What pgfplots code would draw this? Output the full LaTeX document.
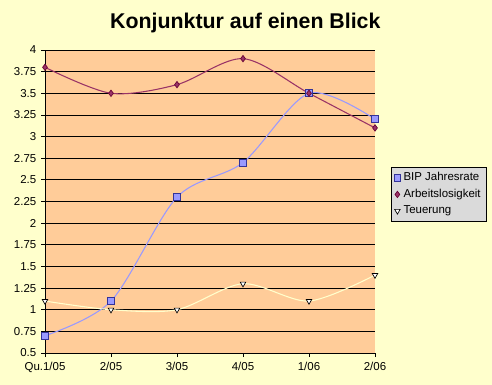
\documentclass[border=0pt]{standalone}
\usepackage{pgfplots}
\pgfplotsset{compat=1.18}
\usepackage{fontspec}
\setmainfont{Liberation Sans}
\definecolor{bgyel}{HTML}{FFFFCC}
\definecolor{plotor}{HTML}{FFCC99}
\definecolor{bipc}{HTML}{9999FF}
\definecolor{bipd}{HTML}{333399}
\definecolor{alc}{HTML}{993366}
\definecolor{ald}{HTML}{660033}
\definecolor{teuc}{HTML}{FFFFCC}
\definecolor{leggray}{HTML}{DADADA}
\begin{document}
\begin{tikzpicture}[x=1pt,y=1pt]
\fill[bgyel] (0,0) rectangle (369,288.75);
\node[font=\bfseries\fontsize{16}{18}\selectfont] at (184,271.5) {Konjunktur auf einen Blick};
\begin{axis}[
  at={(33.75pt,24pt)}, anchor=south west,
  scale only axis, width=247.5pt, height=227.25pt,
  xmin=0, xmax=5, ymin=0.5, ymax=4,
  xtick={0,1,2,3,4,5},
  xticklabels={Qu.1/05,2/05,3/05,4/05,1/06,2/06},
  ytick distance=0.25,
  axis lines=left,
  axis line style={-, black},
  axis background/.style={fill=plotor},
  ymajorgrids, grid style={black, line width=0.6pt},
  tick align=outside, major tick length=3pt,
  tick style={black, line width=0.6pt},
  tick label style={font=\fontsize{8.6}{9.5}\selectfont},
  /pgf/number format/assume math mode=true,
  clip=true,
  legend style={at={(1.0485,0.6139)}, anchor=north west, fill=leggray, draw=black,
    font=\fontsize{8.6}{10}\selectfont, row sep=0.8pt, inner sep=2pt},
  legend cell align=left,
  legend image code/.code={\draw[#1,only marks] plot coordinates {(0.12cm,0cm)};},
]
\addplot[bipc, line width=0.8pt, smooth, tension=0.5, mark=square*, mark size=2.6pt,
  mark options={fill=bipc, draw=bipd, line width=0.6pt}]
  coordinates {(0,0.7) (1,1.1) (2,2.3) (3,2.7) (4,3.5) (5,3.2)};
\addlegendentry{BIP Jahresrate}
\addplot[alc, line width=0.8pt, smooth, tension=0.5, mark=diamond*, mark size=2.4pt,
  mark options={fill=alc, draw=ald, line width=0.5pt}]
  coordinates {(0,3.8) (1,3.5) (2,3.6) (3,3.9) (4,3.5) (5,3.1)};
\addlegendentry{Arbeitslosigkeit}
\addplot[teuc, line width=0.8pt, smooth, tension=0.5, mark=triangle*, mark size=2.4pt,
  mark options={fill=white, draw=black, line width=0.5pt, rotate=180}]
  coordinates {(0,1.1) (1,1.0) (2,1.0) (3,1.3) (4,1.1) (5,1.4)};
\addlegendentry{Teuerung}
\end{axis}
\end{tikzpicture}
\end{document}
